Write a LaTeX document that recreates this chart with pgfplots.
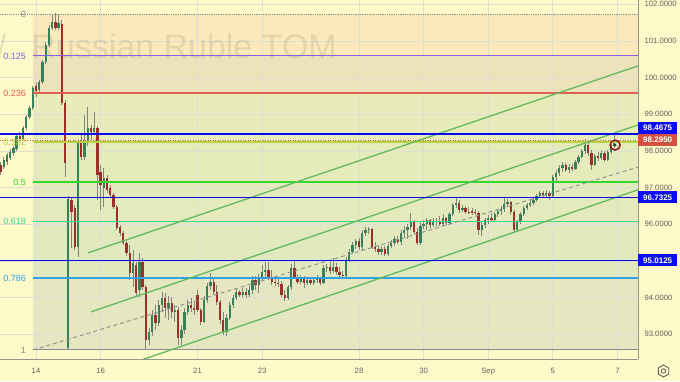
\documentclass[border=0pt]{standalone}
\usepackage{pgfplots}
\pgfplotsset{compat=1.18}
\usepackage{pgfplotstable}
\usetikzlibrary{backgrounds}
\usepackage{fontspec}
\setmainfont{Liberation Sans}
\definecolor{bgc}{RGB}{254,249,200}
\definecolor{fA}{RGB}{251,233,186}
\definecolor{fB}{RGB}{237,226,186}
\definecolor{fC}{RGB}{231,236,186}
\definecolor{fD}{RGB}{229,235,186}
\definecolor{fE}{RGB}{228,234,188}
\definecolor{fF}{RGB}{226,233,191}
\definecolor{fG}{RGB}{229,231,193}
\definecolor{gridc}{RGB}{222,222,212}
\definecolor{upc}{RGB}{56,128,90}
\definecolor{dnc}{RGB}{158,46,40}
\definecolor{wickc}{RGB}{128,132,124}
\definecolor{fib0}{RGB}{140,140,140}
\definecolor{fibp}{RGB}{130,100,222}
\definecolor{fibr}{RGB}{226,96,82}
\definecolor{fiby}{RGB}{178,212,64}
\definecolor{fibg}{RGB}{50,215,50}
\definecolor{fibt}{RGB}{55,218,150}
\definecolor{fibb}{RGB}{50,160,230}
\definecolor{chan}{RGB}{98,186,92}
\definecolor{lvl}{RGB}{10,10,235}
\definecolor{boxb}{RGB}{12,12,240}
\definecolor{boxr}{RGB}{214,80,66}
\definecolor{ticktxt}{RGB}{100,100,100}
\definecolor{axc}{RGB}{150,150,140}
\definecolor{wm}{RGB}{110,110,110}
\definecolor{circ}{RGB}{150,25,25}

% hourly candles: n = bar index (10 bars per trading day, 0 = Aug 14 open)
\pgfplotstableread{
n o h l c
-11 97.62 97.70 97.35 97.43
-10 97.56 97.84 97.51 97.76
-9 97.70 97.95 97.62 97.89
-8 97.81 98.06 97.76 97.97
-7 97.95 98.14 97.86 98.08
-6 98.06 98.46 98.00 98.41
-5 98.41 98.52 98.27 98.33
-4 98.33 98.68 98.30 98.63
-3 98.63 98.98 98.57 98.93
-2 98.93 99.23 98.87 99.17
-1 99.17 99.77 99.12 99.72
0 99.77 99.85 99.47 99.64
1 99.66 99.94 99.61 99.88
2 99.88 100.48 99.83 100.43
3 100.43 100.97 100.37 100.89
4 100.89 101.44 100.84 101.36
5 101.36 101.71 101.30 101.52
6 101.52 101.76 101.30 101.36
7 101.36 101.74 101.30 101.49
8 101.46 101.57 99.26 99.31
9 99.31 99.39 97.29 97.67
10 92.63 96.77 92.60 96.69
11 96.66 96.75 95.36 96.34
12 96.45 96.53 95.30 95.38
13 95.38 98.30 95.11 98.22
14 98.22 98.49 97.76 97.84
15 97.84 98.98 97.76 98.22
16 98.22 99.20 98.14 98.63
17 98.63 98.71 98.30 98.52
18 98.52 99.06 98.44 98.63
19 98.63 98.68 96.66 97.35
20 97.43 97.62 96.39 97.07
21 96.99 97.54 96.47 97.26
22 97.26 97.35 96.86 96.94
23 96.99 97.07 96.72 96.80
24 96.80 96.86 96.42 96.47
25 96.47 96.53 95.85 95.90
26 95.93 95.98 95.68 95.76
27 95.76 95.82 95.44 95.49
28 95.49 95.55 95.14 95.22
29 95.22 95.44 94.48 94.67
30 94.67 95.30 94.29 94.95
31 94.89 94.97 94.05 94.13
32 94.21 95.22 94.02 94.97
33 94.97 95.08 94.21 94.29
34 94.29 94.35 92.57 92.85
35 92.85 93.17 92.71 93.06
36 93.06 93.66 92.96 93.53
37 93.53 93.80 93.12 93.31
38 93.31 93.94 93.23 93.80
39 93.80 94.16 93.61 93.99
40 93.99 94.13 93.45 93.72
41 93.72 94.05 93.39 93.86
42 93.86 94.02 93.45 93.61
43 93.61 93.80 93.34 93.66
44 93.66 93.75 92.71 92.90
45 92.90 93.26 92.71 93.12
46 93.12 93.72 93.01 93.61
47 93.61 93.94 93.53 93.80
48 93.80 93.99 93.61 93.72
49 93.72 93.88 93.53 93.66
50 94.07 94.21 93.61 93.66
51 93.66 93.72 93.26 93.34
52 93.34 94.05 93.31 93.94
53 93.94 94.40 93.86 94.32
54 94.32 94.67 94.21 94.43
55 94.43 94.54 94.07 94.16
56 94.16 94.35 93.80 93.88
57 93.88 93.94 93.28 93.39
58 93.39 93.61 92.98 93.06
59 93.06 93.56 92.96 93.45
60 93.45 93.88 93.39 93.80
61 93.80 94.07 93.72 93.99
62 93.99 94.24 93.94 94.16
63 94.16 94.21 94.02 94.07
64 94.07 94.26 94.02 94.16
65 94.16 94.26 93.99 94.07
66 94.07 94.32 94.02 94.21
67 94.21 94.59 94.10 94.48
68 94.48 94.59 94.21 94.35
69 94.35 94.64 94.13 94.56
70 94.56 94.89 94.48 94.70
71 94.70 94.97 94.56 94.76
72 94.76 94.97 94.48 94.56
73 94.56 94.76 94.35 94.43
74 94.43 94.56 94.32 94.40
75 94.40 94.54 94.29 94.37
76 94.37 94.46 94.02 94.07
77 94.07 94.21 93.91 93.99
78 93.99 94.35 93.94 94.29
79 94.29 94.92 94.21 94.81
80 94.81 95.00 94.51 94.56
81 94.56 94.64 94.37 94.43
82 94.43 94.62 94.37 94.51
83 94.51 94.59 94.26 94.40
84 94.40 94.56 94.35 94.48
85 94.48 94.56 94.35 94.40
86 94.40 94.56 94.35 94.48
87 94.48 94.62 94.40 94.51
88 94.51 94.56 94.35 94.40
89 94.40 94.89 94.37 94.81
90 94.81 94.92 94.70 94.84
91 94.84 94.97 94.64 94.73
92 94.73 95.08 94.67 94.84
93 94.84 94.95 94.62 94.70
94 94.70 94.84 94.56 94.62
95 94.62 94.73 94.56 94.59
96 94.59 95.11 94.56 95.03
97 95.03 95.33 94.97 95.25
98 95.25 95.52 95.19 95.44
99 95.44 95.60 95.33 95.55
100 95.55 95.63 95.30 95.38
101 95.38 95.85 95.30 95.76
102 95.76 95.93 95.68 95.85
103 95.85 95.93 95.74 95.87
104 95.87 95.90 95.33 95.38
105 95.38 95.52 95.25 95.33
106 95.33 95.44 95.16 95.25
107 95.25 95.41 95.16 95.33
108 95.33 95.41 95.14 95.19
109 95.19 95.46 95.14 95.41
110 95.41 95.57 95.36 95.49
111 95.49 95.68 95.41 95.60
112 95.60 95.68 95.46 95.52
113 95.52 95.85 95.44 95.76
114 95.76 95.96 95.65 95.85
115 95.85 96.01 95.60 95.93
116 95.93 96.31 95.85 96.09
117 96.09 96.12 95.74 95.79
118 95.79 95.90 95.44 95.49
119 95.49 96.09 95.44 95.96
120 95.96 96.12 95.87 96.01
121 96.01 96.17 95.85 96.12
122 96.12 96.15 95.90 95.98
123 95.98 96.17 95.93 96.06
124 96.06 96.17 95.96 96.09
125 96.09 96.23 95.96 96.01
126 96.01 96.28 95.96 96.17
127 96.17 96.20 95.98 96.04
128 96.04 96.34 95.98 96.28
129 96.28 96.58 96.23 96.53
130 96.53 96.72 96.45 96.58
131 96.58 96.66 96.31 96.39
132 96.39 96.53 96.34 96.45
133 96.45 96.50 96.28 96.34
134 96.34 96.47 96.28 96.31
135 96.36 96.45 96.26 96.31
136 96.34 96.42 96.26 96.30
137 96.30 96.36 95.71 95.85
138 95.85 96.06 95.68 95.98
139 95.98 96.17 95.90 96.12
140 96.12 96.26 96.01 96.17
141 96.17 96.31 96.06 96.12
142 96.12 96.34 96.06 96.28
143 96.28 96.42 96.20 96.36
144 96.36 96.50 96.26 96.42
145 96.42 96.72 96.34 96.56
146 96.56 96.69 96.47 96.61
147 96.61 96.64 96.26 96.34
148 96.34 96.39 95.79 95.85
149 95.85 96.12 95.79 96.06
150 96.06 96.34 96.01 96.28
151 96.28 96.50 96.23 96.45
152 96.45 96.58 96.39 96.53
153 96.53 96.66 96.47 96.58
154 96.58 96.72 96.53 96.66
155 96.66 96.83 96.61 96.77
156 96.77 96.91 96.72 96.86
157 96.86 96.91 96.72 96.80
158 96.80 96.94 96.75 96.86
159 96.86 96.91 96.66 96.77
160 96.77 97.35 96.72 97.29
161 97.29 97.48 97.18 97.40
162 97.40 97.62 97.32 97.54
163 97.54 97.70 97.43 97.62
164 97.62 97.67 97.43 97.48
165 97.48 97.65 97.40 97.56
166 97.56 97.65 97.45 97.50
167 97.50 97.76 97.48 97.70
168 97.70 97.89 97.65 97.84
169 97.84 98.06 97.81 98.00
170 98.00 98.33 97.92 98.16
171 98.16 98.25 97.86 97.95
172 97.95 98.03 97.48 97.62
173 97.62 97.92 97.59 97.86
174 97.86 97.97 97.73 97.81
175 97.81 98.03 97.76 97.95
176 97.95 98.00 97.70 97.76
177 97.76 98.03 97.73 97.97
178 97.97 98.19 97.92 98.14
179 98.14 98.49 98.08 98.22
}\candles

\begin{document}
\begin{tikzpicture}[x=1pt,y=1pt]
\begin{axis}[
  scale only axis, width=638pt, height=359pt,
  xmin=-11.15, xmax=186.38, ymin=92.326, ymax=102.117,
  axis x line*=bottom, axis y line*=right,
  axis line style={draw=axc, line width=0.8pt},
  major tick length=0pt,
  xtick={0,20,50,70,100,120,140,160,180},
  xticklabels={14,16,21,23,28,30,Sep,5,7},
  ytick={93,94,96,97,98,99,100,101,102},
  yticklabels={93.0000,94.0000,96.0000,97.0000,98.0000,99.0000,100.0000,101.0000,102.0000},
  xticklabel style={font=\fontsize{7.7}{9}\selectfont, text=ticktxt, yshift=-5.5pt},
  yticklabel style={font=\fontsize{7.7}{9}\selectfont, text=ticktxt, xshift=3pt},
  /pgf/number format/assume math mode=true,
]
% fibonacci zone fills
\addplot[fill=fA, draw=none] coordinates {(-0.93,101.736) (186.38,101.736) (186.38,100.591) (-0.93,100.591)};
\addplot[fill=fB, draw=none] coordinates {(-0.93,100.591) (186.38,100.591) (186.38,99.574) (-0.93,99.574)};
\addplot[fill=fC, draw=none] coordinates {(-0.93,99.574) (186.38,99.574) (186.38,98.236) (-0.93,98.236)};
\addplot[fill=fD, draw=none] coordinates {(-0.93,98.236) (186.38,98.236) (186.38,97.154) (-0.93,97.154)};
\addplot[fill=fE, draw=none] coordinates {(-0.93,97.154) (186.38,97.154) (186.38,96.073) (-0.93,96.073)};
\addplot[fill=fF, draw=none] coordinates {(-0.93,96.073) (186.38,96.073) (186.38,94.534) (-0.93,94.534)};
\addplot[fill=fG, draw=none] coordinates {(-0.93,94.534) (186.38,94.534) (186.38,92.573) (-0.93,92.573)};
% grid
\pgfplotsinvokeforeach{0,20,50,70,100,120,140,160,180}{
  \addplot[gridc, line width=0.8pt] coordinates {(#1,92.326) (#1,102.117)};
}
\pgfplotsinvokeforeach{93,94,95,96,97,98,99,100,101,102}{
  \addplot[gridc, line width=0.8pt] coordinates {(-11.15,#1) (186.38,#1)};
}
% watermark
\node[anchor=base east, text=wm, text opacity=0.16, font=\fontsize{34}{40}\selectfont, inner sep=0pt]
  at (axis cs:93.2,100.51) {/\hspace{0.73em}Russian Ruble TOM};
% candles: wicks then bodies
\addplot[draw=none, mark=none, error bars/.cd, y dir=plus, y explicit, error mark=none,
  error bar style={draw=wickc, line width=0.8pt}]
  table[x=n, y=l, y error plus expr=\thisrow{h}-\thisrow{l}] {\candles};
\addplot[draw=none, mark=none, error bars/.cd, y dir=plus, y explicit, error mark=none,
  error bar style={draw=upc, line width=2.3pt}]
  table[x=n, y expr={(\thisrow{c}>\thisrow{o}) ? \thisrow{o} : 80},
        y error plus expr={max(abs(\thisrow{c}-\thisrow{o}),0.025)}] {\candles};
\addplot[draw=none, mark=none, error bars/.cd, y dir=plus, y explicit, error mark=none,
  error bar style={draw=dnc, line width=2.3pt}]
  table[x=n, y expr={(\thisrow{c}>\thisrow{o}) ? 80 : \thisrow{c}},
        y error plus expr={max(abs(\thisrow{c}-\thisrow{o}),0.025)}] {\candles};
% fibonacci lines
\addplot[fib0, line width=0.9pt, dash pattern=on 0.8pt off 1pt] coordinates {(-11.15,101.736) (186.38,101.736)};
\addplot[fibp, line width=1.1pt] coordinates {(-0.93,100.591) (186.38,100.591)};
\addplot[fibr, line width=1.5pt] coordinates {(-0.93,99.574) (186.38,99.574)};
\addplot[fiby, line width=1.8pt] coordinates {(-0.93,98.236) (186.38,98.236)};
\addplot[fibg, line width=1.1pt] coordinates {(-0.93,97.154) (186.38,97.154)};
\addplot[fibt, line width=1.3pt] coordinates {(-0.93,96.073) (186.38,96.073)};
\addplot[fibb, line width=1.1pt] coordinates {(-0.93,94.534) (186.38,94.534)};
\addplot[fib0, line width=1pt] coordinates {(-0.93,92.573) (186.38,92.573)};
% trend lines
\addplot[fib0, line width=0.9pt, dash pattern=on 4pt off 3pt] coordinates {(-0.93,92.573) (186.38,97.56)};
\addplot[chan, line width=1.3pt] coordinates {(16.1,95.22) (186.38,100.32)};
\addplot[chan, line width=1.3pt] coordinates {(17.0,93.61) (186.38,98.71)};
\addplot[chan, line width=1.3pt] coordinates {(16.1,91.80) (186.38,96.94)};
% horizontal levels
\addplot[lvl, line width=1.8pt] coordinates {(-11.15,98.4675) (186.38,98.4675)};
\addplot[lvl, line width=1.8pt] coordinates {(-11.15,96.7325) (186.38,96.7325)};
\addplot[lvl, line width=1.8pt] coordinates {(-11.15,95.0125) (186.38,95.0125)};
\addplot[boxr, line width=0.8pt, dash pattern=on 1pt off 1.5pt] coordinates {(-11.15,98.295) (186.38,98.295)};
% marker on last bar
\addplot[only marks, mark=o, mark size=5pt, mark options={draw=circ, line width=1.5pt}] coordinates {(179.3,98.16)};
\addplot[only marks, mark=*, mark size=1.1pt, mark options={fill=wickc, draw=none}] coordinates {(179.3,98.16)};
% fib labels
\begin{scope}[every node/.style={anchor=east, inner sep=0pt, font=\fontsize{9}{10}\selectfont}]
\node[text=fib0] at (axis cs:-3.1,101.736) {0};
\node[text=fibp] at (axis cs:-3.1,100.591) {0.125};
\node[text=fibr] at (axis cs:-3.1,99.574) {0.236};
\node[text=fiby] at (axis cs:-3.1,98.236) {0.382};
\node[text=fibg] at (axis cs:-3.1,97.154) {0.5};
\node[text=fibt] at (axis cs:-3.1,96.073) {0.618};
\node[text=fibb] at (axis cs:-3.1,94.534) {0.786};
\node[text=fib0] at (axis cs:-3.1,92.573) {1};
\end{scope}
\coordinate (LL) at (axis cs:-11.15,92.326);
\coordinate (UR) at (axis cs:186.38,102.117);
\coordinate (lv1) at (axis cs:186.38,98.4675);
\coordinate (lv2) at (axis cs:186.38,96.7325);
\coordinate (lv3) at (axis cs:186.38,95.0125);
\coordinate (lvr) at (axis cs:186.38,98.295);
\end{axis}
\begin{scope}[on background layer]
\fill[bgc] ([yshift=-22pt]LL) rectangle ([xshift=42pt]UR);
\end{scope}
\begin{scope}[every node/.style={anchor=west, text=white, inner sep=0pt, minimum width=39pt, minimum height=12pt, font=\bfseries\fontsize{8}{9}\selectfont}]
\node[fill=boxb] at ([yshift=5.8pt]lv1) {98.4675};
\node[fill=boxr] at (lvr) {98.2950};
\node[fill=boxb] at (lv2) {96.7325};
\node[fill=boxb] at (lv3) {95.0125};
\end{scope}
% settings icon
\coordinate (gc) at ([xshift=25.5pt,yshift=-12pt]LL -| UR);
\draw[ticktxt, line width=0.9pt] (gc) ++(90:6) -- ++(-30:6) -- ++(-90:6) -- ++(-150:6) -- ++(150:6) -- ++(90:6) -- cycle;
\draw[ticktxt, line width=0.9pt] (gc) circle (2.2);
\pgfresetboundingbox
\useasboundingbox ([yshift=-22pt]LL) rectangle ([xshift=42pt]UR);
\end{tikzpicture}
\end{document}
